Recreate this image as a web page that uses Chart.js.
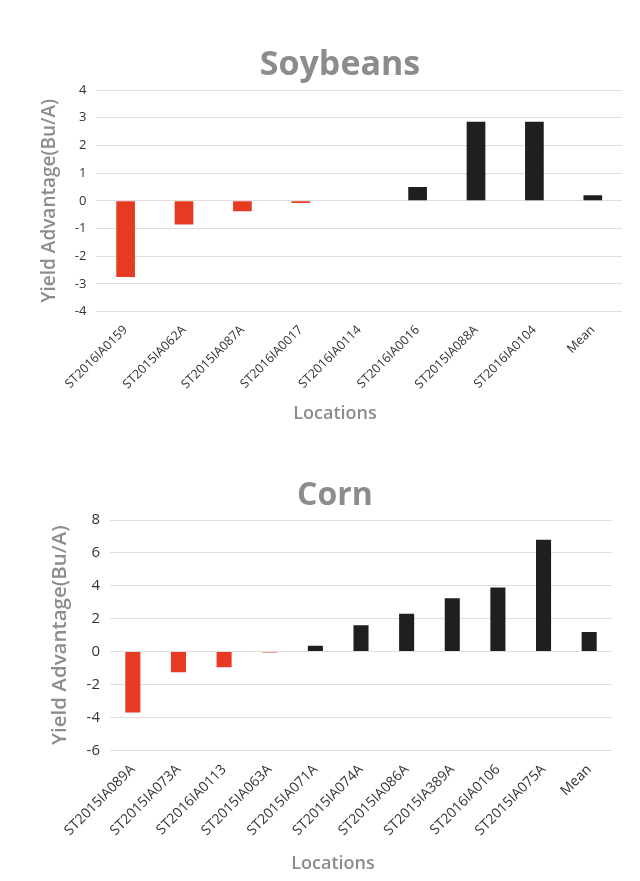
<!DOCTYPE html>
<html>
<head>
<meta charset="utf-8">
<script src="https://cdn.jsdelivr.net/npm/chart.js@4/dist/chart.umd.min.js"></script>
<style>
  html, body { margin: 0; padding: 0; background: #fff; }
  body { width: 640px; height: 881px; position: relative; overflow: hidden; font-family: 'Open Sans', sans-serif; }
  .box { position: absolute; }
  #soyBox { left: 20px; top: 30px; width: 610px; height: 400px; }
  #cornBox { left: 20px; top: 462px; width: 610px; height: 415px; }
  .lbl { position: absolute; transform: translate(-50%, -50%); color: #8c8c8c; white-space: nowrap; }
  .ttl { font-weight: bold; }
  .loc { font-weight: 600; font-size: 18px; }
</style>
</head>
<body>
<div class="box" id="soyBox"><canvas id="soy"></canvas></div>
<div class="box" id="cornBox"><canvas id="corn"></canvas></div>
<div class="lbl ttl" style="left:340px; top:62px; font-size:34px;">Soybeans</div>
<div class="lbl loc" style="left:335px; top:412px;">Locations</div>
<div class="lbl ttl" style="left:335px; top:492px; font-size:32px;">Corn</div>
<div class="lbl loc" style="left:333px; top:862px;">Locations</div>
<script>
// --- datos ---
const soyLocations = ['ST2016IA0159', 'ST2015IA062A', 'ST2015IA087A', 'ST2016IA0017', 'ST2016IA0114',
                      'ST2016IA0016', 'ST2015IA088A', 'ST2016IA0104', 'Mean'];
const soyValues = [-2.75, -0.85, -0.38, -0.08, 0, 0.5, 2.85, 2.85, 0.2];
const soyTicks = { min: -4, max: 4, step: 1 };

const cornLocations = ['ST2015IA089A', 'ST2015IA073A', 'ST2016IA0113', 'ST2015IA063A', 'ST2015IA071A',
                       'ST2015IA074A', 'ST2015IA086A', 'ST2015IA389A', 'ST2016IA0106', 'ST2015IA075A', 'Mean'];
const cornValues = [-3.7, -1.25, -0.95, -0.05, 0.35, 1.6, 2.3, 3.25, 3.9, 6.8, 1.2];
const cornTicks = { min: -6, max: 8, step: 2 };

const RED = '#e63b22';
const BLACK = '#1f1f1f';
const GREY = '#8c8c8c';
const FONT = 'Open Sans';

// titles and "Locations" are html labels above; the canvas only keeps room for them
function makeChart(id, labels, values, ticks, sizes) {
    const ctx = document.getElementById(id).getContext('2d');
    return new Chart(ctx, {
        type: 'bar',
        data: {
            labels,
            datasets: [{
                data: values,
                backgroundColor: (c) => c.raw < 0 ? RED : BLACK,
                barPercentage: sizes.bar,
                categoryPercentage: 1
            }]
        },
        options: {
            responsive: true,
            maintainAspectRatio: false,
            animation: false,
            layout: { padding: sizes.pad },
            plugins: {
                legend: { display: false },
                tooltip: { enabled: false }
            },
            scales: {
                x: {
                    grid: { display: false },
                    border: { display: false },
                    ticks: {
                        color: '#333',
                        font: { family: FONT, size: sizes.xFont },
                        minRotation: 45,
                        maxRotation: 45,
                        autoSkip: false
                    }
                },
                y: {
                    min: ticks.min,
                    max: ticks.max,
                    border: { display: false },
                    grid: { color: '#dedede', drawTicks: false },
                    ticks: {
                        stepSize: ticks.step,
                        color: '#333',
                        padding: 10,
                        font: { family: FONT, size: sizes.yFont }
                    },
                    title: {
                        display: true,
                        text: 'Yield Advantage(Bu/A)',
                        color: GREY,
                        font: { family: FONT, size: sizes.yTitle, weight: '600' },
                        padding: { bottom: 4 }
                    }
                }
            }
        }
    });
}

makeChart('soy', soyLocations, soyValues, soyTicks,
    { bar: 0.32, pad: { left: 14, right: 8, top: 60, bottom: 35 }, xFont: 12.5, yFont: 13, yTitle: 19 });
makeChart('corn', cornLocations, cornValues, cornTicks,
    { bar: 0.33, pad: { left: 24, right: 18, top: 58, bottom: 35 }, xFont: 14, yFont: 15, yTitle: 20.5 });
</script>
</body>
</html>
